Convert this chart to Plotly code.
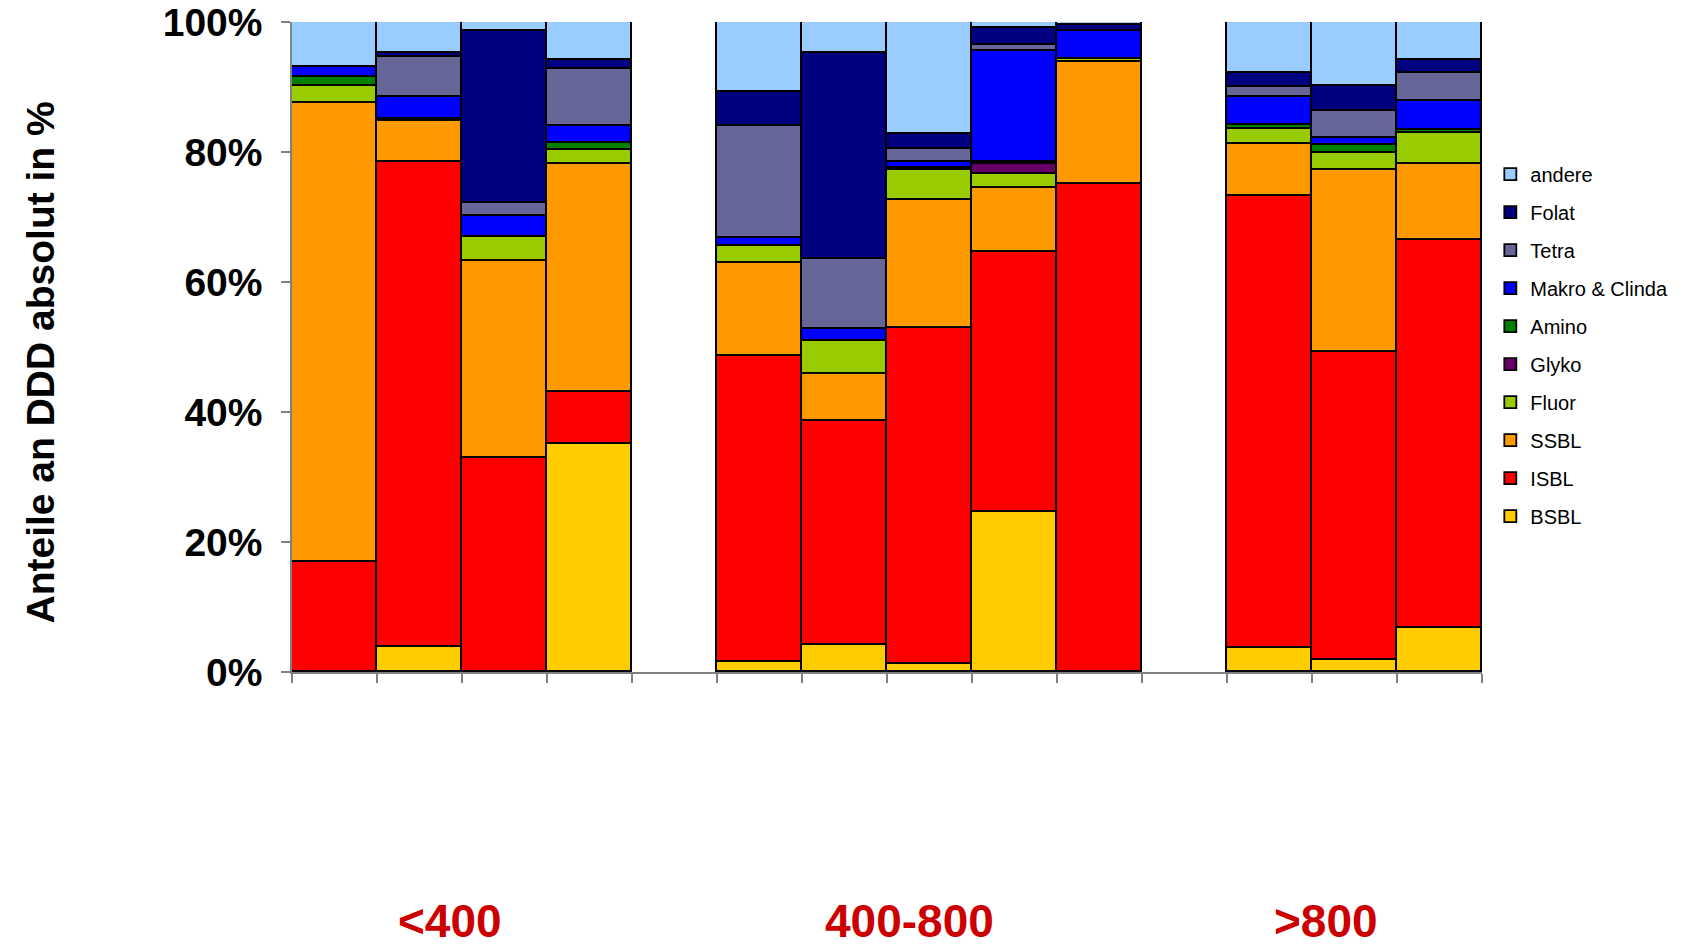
import plotly.graph_objects as go

# ---- data (shares of DDD in %, 12 bars in three groups) ----
groups = ["<400", "400-800", ">800"]
group_sizes = [4, 5, 3]

series_names = ["BSBL", "ISBL", "SSBL", "Fluor", "Glyko", "Amino",
                "Makro & Clinda", "Tetra", "Folat", "andere"]

BSBL   = [0.0, 3.8, 0.0, 35.1, 1.6, 4.1, 1.3, 24.6, 0.0, 3.7, 1.9, 6.8]
ISBL   = [17.0, 74.6, 33.0, 8.0, 47.0, 34.5, 51.6, 40.0, 75.1, 69.5, 47.3, 59.6]
SSBL   = [70.5, 6.4, 30.3, 35.0, 14.4, 7.3, 19.7, 9.8, 18.7, 8.0, 28.0, 11.7]
Fluor  = [2.7, 0.0, 3.7, 2.2, 2.5, 5.1, 4.6, 2.2, 0.5, 2.4, 2.7, 4.9]
Glyko  = [0.0, 0.3, 0.0, 0.0, 0.0, 0.0, 0.4, 1.5, 0.0, 0.0, 0.0, 0.0]
Amino  = [1.3, 0.0, 0.0, 1.1, 0.0, 0.0, 0.0, 0.3, 0.0, 0.6, 1.2, 0.4]
Makro  = [1.6, 3.4, 3.1, 2.6, 1.2, 1.8, 0.8, 17.1, 4.3, 4.3, 1.0, 4.4]
Tetra  = [0.0, 6.1, 2.1, 8.7, 17.3, 10.8, 2.1, 1.0, 0.0, 1.5, 4.2, 4.4]
Folat  = [0.0, 0.7, 26.4, 1.4, 5.2, 31.7, 2.2, 2.6, 1.0, 2.2, 3.8, 1.9]
andere = [6.9, 4.7, 1.4, 5.9, 10.8, 4.7, 17.3, 0.9, 0.4, 7.8, 9.9, 5.9]

series_values = [BSBL, ISBL, SSBL, Fluor, Glyko, Amino, Makro, Tetra, Folat, andere]
series_colors = ["#FFCC00", "#FF0000", "#FF9900", "#99CC00", "#660066",
                 "#008000", "#0000FF", "#666699", "#000080", "#99CCFF"]

y_ticks = [0, 20, 40, 60, 80, 100]
y_tick_labels = ["0%", "20%", "40%", "60%", "80%", "100%"]
y_title = "Anteile an DDD absolut in %"

# ---- bar positions: one slot per bar, one empty slot between groups ----
xpos = []
group_centers = []
start = 0
for n in group_sizes:
    xpos += [start + i + 0.5 for i in range(n)]
    group_centers.append(start + n / 2.0)
    start += n + 1
x_max = start - 1

fig = go.Figure()
n_series = len(series_names)
for i, (name, vals, col) in enumerate(zip(series_names, series_values, series_colors)):
    fig.add_trace(go.Bar(
        x=xpos, y=vals, name=name, width=1.0,
        marker=dict(color=col, line=dict(color="#000000", width=1.8)),
        legendgroup=name, legendrank=n_series - i,
    ))

fig.update_layout(
    width=1678, height=943,
    barmode="stack", bargap=0,
    plot_bgcolor="white", paper_bgcolor="white",
    margin=dict(l=284, r=204, t=14, b=279, autoexpand=False),
    font=dict(family="Liberation Sans, Arial, sans-serif", color="#000000"),
    showlegend=True,
    legend=dict(
        traceorder="grouped", tracegroupgap=9,
        x=1.007, xanchor="left", y=0.796, yanchor="top",
        font=dict(size=20, family="Liberation Sans, Arial, sans-serif"),
        bgcolor="rgba(0,0,0,0)", itemwidth=30,
    ),
)

fig.update_xaxes(
    range=[0, x_max], tick0=0, dtick=1, showticklabels=False,
    ticks="outside", ticklen=9, tickcolor="#808080", tickwidth=1.5,
    showline=True, linecolor="#808080", linewidth=1.5,
    showgrid=False, zeroline=False, automargin=False,
)
fig.update_yaxes(
    range=[0, 100], tickvals=y_ticks, ticktext=y_tick_labels,
    tickfont=dict(size=39, family="Liberation Sans, Arial, sans-serif", weight="bold"),
    ticks="outside", ticklen=9, tickcolor="#808080", tickwidth=1.5,
    ticklabelstandoff=11, ticklabeloverflow="allow",
    showline=True, linecolor="#808080", linewidth=1.5,
    showgrid=False, zeroline=False, automargin=False,
)

fig.add_annotation(
    text=y_title, xref="paper", yref="paper", x=-0.211, y=0.476,
    xanchor="center", yanchor="middle", textangle=-90, showarrow=False,
    font=dict(size=39, family="Liberation Sans, Arial, sans-serif", weight="bold", color="#000000"),
)

label_shift = [-0.14, -0.23, -0.33]
for g, c, s in zip(groups, group_centers, label_shift):
    fig.add_annotation(
        text=g, xref="x", yref="paper", x=c + s, y=-0.4265,
        xanchor="center", yanchor="bottom", showarrow=False,
        font=dict(size=46, family="Liberation Sans, Arial, sans-serif",
                  weight="bold", color="#CC0000"),
    )

fig.write_html("out.html")
